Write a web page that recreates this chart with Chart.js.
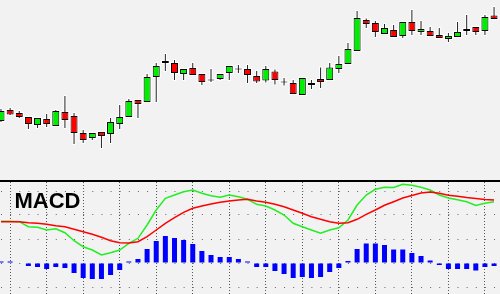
<!DOCTYPE html>
<html><head><meta charset="utf-8">
<script src="https://cdn.jsdelivr.net/npm/chart.js@4/dist/chart.umd.min.js"></script>
<style>
html,body{margin:0;padding:0;background:#f2f2f2;}
#wrap{position:relative;width:500px;height:294px;overflow:hidden;background:#f2f2f2;}
#top{position:absolute;left:0;top:0;width:500px;height:180px;}
#sep{position:absolute;left:0;top:180px;width:500px;height:2px;background:#000;}
#bot{position:absolute;left:0;top:182px;width:500px;height:112px;}
#lbl{position:absolute;left:14.5px;top:189.5px;font:bold 22px/22px "Liberation Sans",Arial,sans-serif;color:#000;white-space:nowrap;}
canvas{display:block;}
</style></head>
<body>
<div id="wrap">
  <div id="top"><canvas id="c1" width="500" height="180"></canvas></div>
  <div id="sep"></div>
  <div id="bot"><canvas id="c2" width="500" height="112"></canvas></div>
  <div id="lbl">MACD</div>
</div>
<script>
// ---- price candles (arbitrary price units) ----
const open  = [59,70,67,63,55,61,54,68,64,47,42,48,46,56,63,80,78,103,117,117,106,112,106,100,101,107,111,111,104,99.5,108.5,98,97,85,97,101,100,111,116,129,160,157,146,150,144,158,148,149,145,141,143,149,153,149,164.5];
const high  = [71,72,69,63,62,66,70,84,67,50,47,48,62,75,81,80,106,117,126,120,111,117,106,111,106,114,115,115,109,114,110.5,102,100,102,100,112.5,117,124,137,169,161.5,159,156,155,158,170,159,153,152,147,158,165,153,165,173];
const low   = [58,65,62,51,52,53,54,52,36,37,40,32,37,51,63,62,78,78,109,100,100,105,95,98,100,100,107,97,97,97.5,95.5,94.5,86,85,91,92,100,107,116,129,152,143,146,143,142,145,145,144,142,138,143,145,145,145,161];
const close = [69,65.5,63,56,62,56,69,60,47,40,47,44,58,63,79,76,103,114,119,107,111,105,98,100,106,114,111,105,98.5,111,100,98,86,102,95,98,112.5,116,131,162,156,148,152,143,158,149,151,144,142,144,148,151,148,163,161];

// ---- MACD panel ----
const macdLine   = [41.7,41.7,41.3,36.3,35.7,33,34.3,30.3,22.3,16.3,13,8,10.3,13,19.7,24.7,38,53,64.7,68,71.3,73,69.7,67.3,65.7,68,66.3,63.7,58.7,57,53,48,39.7,36.3,33,29.7,33,35.3,43,58,68,73.7,75.8,75.5,78.8,77.7,75.8,73,68,65,63.3,61.3,57.5,59.7,61.3];
const signalLine = [41.3,41.3,41.3,40.3,39.7,38.7,37.3,36.3,33.7,31.3,28.7,25.7,22.3,20.3,20,21.3,26.3,33,39.7,45.3,50.7,54.7,57,59,60.7,62,63,63.7,62,60.7,58.7,56.3,53,49.7,46.3,43.7,41.3,39.7,40.3,43.7,48.7,53,57.7,61.3,65,67.5,70,71,69.7,67.8,66.8,65.5,64.5,63.5,63];
const histogram  = [1.5,1.5,0,-3,-4,-6,-4,-5,-10,-15,-16,-16,-12,-7,1.5,4,14,22,27,25,23,19,12,8,6,6,4,1.5,-4,-4,-8,-11,-15,-14,-15,-14,-9,-5,2,14,19.5,19.5,18,13.5,13.5,10,7,2.5,-2,-6,-6,-6,-7.5,-4,-3];
const gridXTicks = [1,5,9,13,17,21,25,29,33,37,41,45,49,53];
const gridYTicks = [-24,0,24,48,72];

const idx = open.map((_, i) => i);
const XMIN = -0.11, XMAX = 54.65;
const bodyLo = idx.map(i => open[i] === close[i] ? open[i] - 0.5 : Math.min(open[i], close[i]));
const bodyHi = idx.map(i => open[i] === close[i] ? open[i] + 0.5 : Math.max(open[i], close[i]));
const bodyColor = idx.map(i => close[i] > open[i] ? '#00ee00' : (close[i] < open[i] ? '#ff0000' : '#000000'));

const common = {
  responsive: false, animation: false, events: [],
  layout: { padding: 0 },
  plugins: { legend: { display: false }, tooltip: { enabled: false }, title: { display: false } }
};

new Chart(document.getElementById('c1'), {
  type: 'bar',
  data: {
    datasets: [
      { data: idx.map(i => ({ x: i, y: [bodyLo[i], bodyHi[i]] })), backgroundColor: bodyColor, borderColor: '#000', borderWidth: 1, borderSkipped: false, barThickness: 7, grouped: false, inflateAmount: 0, order: 1 },
      { data: idx.map(i => ({ x: i, y: [low[i], high[i]] })), backgroundColor: '#222', borderWidth: 0, barThickness: 1, grouped: false, inflateAmount: 0, order: 2 },
      { data: idx.map(i => ({ x: i, y: [low[i] - 1, high[i] + 1] })), backgroundColor: '#ffffff', borderWidth: 0, barThickness: 3, grouped: false, inflateAmount: 0, order: 3 },
      { data: idx.map(i => ({ x: i, y: [bodyLo[i] - 1, bodyHi[i] + 1] })), backgroundColor: '#ffffff', borderWidth: 0, barThickness: 9, grouped: false, inflateAmount: 0, order: 4 }
    ]
  },
  options: Object.assign({}, common, {
    scales: {
      x: { type: 'linear', min: XMIN, max: XMAX, offset: false, display: false, grid: { offset: false } },
      y: { type: 'linear', min: 0, max: 180, display: false }
    }
  })
});

new Chart(document.getElementById('c2'), {
  type: 'bar',
  data: {
    datasets: [
      { type: 'line', data: idx.map(i => ({ x: i, y: signalLine[i] })), borderColor: '#ff0000', borderWidth: 1.5, pointRadius: 0, tension: 0, fill: false, order: 0 },
      { type: 'line', data: idx.map(i => ({ x: i, y: macdLine[i] })), borderColor: '#22ee22', borderWidth: 1.5, pointRadius: 0, tension: 0, fill: false, order: 1 },
      { type: 'bar', data: idx.map(i => ({ x: i, y: histogram[i] })), backgroundColor: '#0000ff', borderWidth: 0, barThickness: 5, grouped: false, inflateAmount: 0, order: 2 }
    ]
  },
  options: Object.assign({}, common, {
    scales: {
      x: {
        type: 'linear', min: XMIN, max: XMAX, offset: false, display: true,
        afterBuildTicks: s => { s.ticks = gridXTicks.map(v => ({ value: v })); },
        afterFit: s => { s.height = 0; },
        ticks: { display: false },
        grid: { offset: false, color: '#555', lineWidth: 1, drawTicks: false, borderDash: [1, 2] },
        border: { display: false, dash: [1, 2] }
      },
      y: {
        type: 'linear', min: -31, max: 81, display: true,
        afterBuildTicks: s => { s.ticks = gridYTicks.map(v => ({ value: v })); },
        afterFit: s => { s.width = 0; },
        ticks: { display: false },
        grid: { color: '#666', lineWidth: 1, drawTicks: false, borderDash: [1, 8.13], borderDashOffset: 8.13 },
        border: { display: false, dash: [1, 8.13], dashOffset: 8.13 }
      }
    }
  })
});
</script>
</body></html>
